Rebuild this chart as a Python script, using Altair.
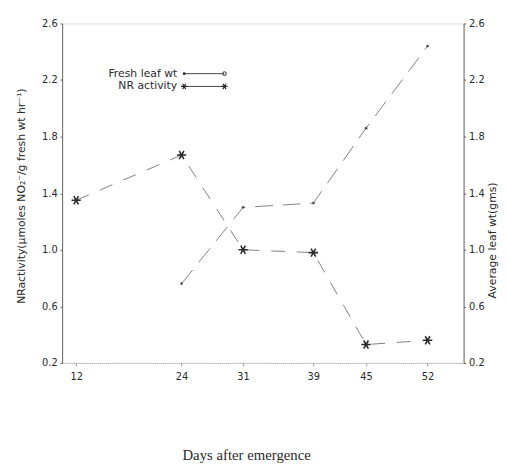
import altair as alt
import pandas as pd

# ---- data ----
nr_days = [12, 24, 31, 39, 45, 52]
nr_activity = [1.35, 1.67, 1.00, 0.98, 0.33, 0.36]

leaf_days = [24, 31, 39, 45, 52]
leaf_wt = [0.76, 1.30, 1.33, 1.86, 2.44]

x_ticks = [12, 24, 31, 39, 45, 52]
y_ticks = [0.2, 0.6, 1.0, 1.4, 1.8, 2.2, 2.6]

legend_labels = ["Fresh leaf wt", "NR activity"]

nr_df = pd.DataFrame({"day": nr_days, "value": nr_activity})
leaf_df = pd.DataFrame({"day": leaf_days, "value": leaf_wt})

ASTERISK = "M-1,0L1,0M-0.5,-0.87L0.5,0.87M-0.5,0.87L0.5,-0.87"
INK = "#2a2a2a"
LINE = "#808080"

xscale = alt.Scale(domain=[10.4, 56.1], nice=False, zero=False)
yscale = alt.Scale(domain=[0.2, 2.6], nice=False, zero=False)

x_enc = alt.X(
    "day:Q", scale=xscale,
    axis=alt.Axis(
        values=x_ticks, format="d", grid=False,
        title="Days after emergence",
        titleFont="Liberation Serif", titleFontSize=15, titleFontWeight="normal",
        titleColor=INK, titleX=187, titleY=93, titleBaseline="middle",
        titleAnchor="start", titleAlign="center",
        labelFont="DejaVu Sans", labelFontSize=10, labelColor=INK,
        tickSize=3, tickColor="#999", labelPadding=6,
        domainColor="#aaaaaa", domainDash=[1, 1],
    ),
)

left_axis = alt.Axis(
    values=y_ticks, format=".1f", grid=False, orient="left",
    title="NRactivity(\u03bcmoles NO\u2082\u207b/g   fresh wt hr\u207b\u00b9)",
    titleFont="DejaVu Sans", titleFontSize=11, titleFontWeight="normal",
    titleColor=INK, titleAngle=270, titleX=-41, titleY=175,
    titleAlign="center", titleBaseline="middle",
    labelFont="DejaVu Sans", labelFontSize=10, labelColor=INK,
    tickSize=2, tickColor="#555", labelPadding=3, domainColor="#666",
)

right_axis = alt.Axis(
    values=y_ticks, format=".1f", grid=False, orient="right",
    title="Average leaf wt(gms)",
    titleFont="DejaVu Sans", titleFontSize=11, titleFontWeight="normal",
    titleColor=INK, titleAngle=270, titleX=29, titleY=220,
    titleAlign="center", titleBaseline="middle",
    labelFont="DejaVu Sans", labelFontSize=10, labelColor=INK,
    tickSize=2, tickColor="#555", labelPadding=3, domainColor="#666",
)

# NR activity (left axis)
nr_line = alt.Chart(nr_df).mark_line(color=LINE, strokeWidth=1, strokeDash=[14, 12]).encode(
    x=x_enc, y=alt.Y("value:Q", scale=yscale, axis=left_axis)
)
nr_pts = alt.Chart(nr_df).mark_point(
    shape=ASTERISK, size=90, filled=False, stroke=INK, strokeWidth=1.6, opacity=1
).encode(x="day:Q", y="value:Q")

# legend (drawn by hand, like the original)
leg_df = pd.DataFrame({"label": legend_labels, "row": [0, 1]})
row_scale = alt.Scale(domain=[0, 1], range=[51, 64])
pos_scale = alt.Scale(domain=[0, 408], range=[0, 408])
leg_text = alt.Chart(leg_df).mark_text(
    align="right", baseline="middle", font="DejaVu Sans", fontSize=11, color=INK
).encode(
    text="label:N",
    x=alt.value(117),
    y=alt.Y("row:Q", scale=row_scale, axis=None),
)
leg_rule = alt.Chart(leg_df).mark_rule(color="#444", strokeWidth=1).encode(
    x=alt.value(124), x2=alt.value(165),
    y=alt.Y("row:Q", scale=row_scale, axis=None),
)
leg_ast = alt.Chart(pd.DataFrame({"pos": [124, 165]})).mark_point(
    shape=ASTERISK, size=40, filled=False, stroke=INK, strokeWidth=1.2, opacity=1
).encode(x=alt.X("pos:Q", scale=pos_scale, axis=None), y=alt.value(64))
leg_dot = alt.Chart(pd.DataFrame({"pos": [124]})).mark_point(
    shape="circle", size=8, filled=True, color=INK, opacity=1
).encode(x=alt.X("pos:Q", scale=pos_scale, axis=None), y=alt.value(51))
leg_o = alt.Chart(pd.DataFrame({"pos": [165]})).mark_point(
    shape="circle", size=14, filled=False, color=INK, strokeWidth=1, opacity=1
).encode(x=alt.X("pos:Q", scale=pos_scale, axis=None), y=alt.value(51))

# Fresh leaf weight (right axis)
leaf_line = alt.Chart(leaf_df).mark_line(color=LINE, strokeWidth=1, strokeDash=[18, 10]).encode(
    x="day:Q", y=alt.Y("value:Q", scale=yscale, axis=right_axis)
)
leaf_pts = alt.Chart(leaf_df).mark_point(
    shape="circle", size=8, filled=True, color="#555", opacity=1
).encode(x="day:Q", y="value:Q")

left_group = alt.layer(nr_line, nr_pts)
right_group = alt.layer(leaf_line, leaf_pts)

main = alt.layer(left_group, right_group).resolve_scale(y="independent")

chart = alt.layer(main, leg_text, leg_rule, leg_ast, leg_dot, leg_o).resolve_scale(
    y="independent", x="independent"
).properties(
    width=408, height=345,
    autosize=alt.AutoSizeParams(type="none"),
    padding={"left": 55, "top": 12, "right": 37, "bottom": 100},
).configure_view(stroke=None).configure(background="white")

chart.save("out.html", embed_options={"renderer": "svg", "actions": False})
